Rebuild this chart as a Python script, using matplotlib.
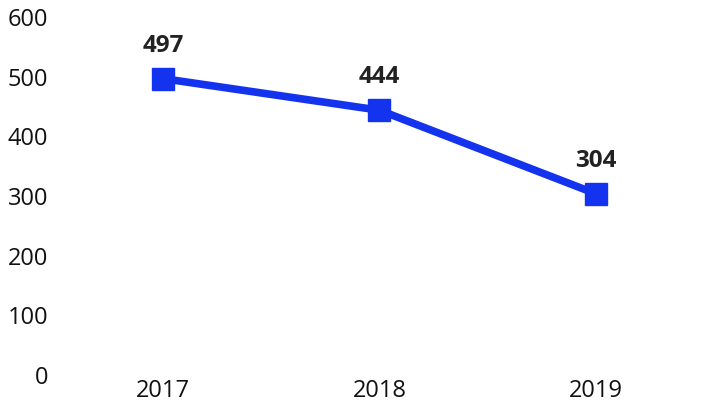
import matplotlib
matplotlib.use("Agg")
import matplotlib.pyplot as plt

years = ["2017", "2018", "2019"]
values = [497, 444, 304]
y_ticks = [0, 100, 200, 300, 400, 500, 600]

plt.rcParams['font.family'] = ['Open Sans', 'DejaVu Sans']

fig = plt.figure(figsize=(7.04, 4.09), dpi=100)
ax = fig.add_axes([0.078, 0.083, 0.922, 0.875])

x = range(len(years))
ax.plot(x, values, color="#1433ee", linewidth=5.5, marker="s", markersize=16,
        solid_joinstyle="miter")

for xi, v in zip(x, values):
    ax.annotate(str(v), (xi, v), xytext=(0, 15), textcoords="offset points",
                ha="center", va="bottom", fontsize=17.5, fontweight="bold",
                color="#222222")

ax.set_xlim(-0.5, 2.5)
ax.set_ylim(0, 600)
ax.set_xticks(list(x))
ax.set_xticklabels(years)
ax.set_yticks(y_ticks)
ax.tick_params(length=0, labelsize=17, colors="#111111")
ax.tick_params(axis="x", pad=3)
ax.tick_params(axis="y", pad=5)
for s in ax.spines.values():
    s.set_visible(False)

fig.savefig("out.png", dpi=100)
